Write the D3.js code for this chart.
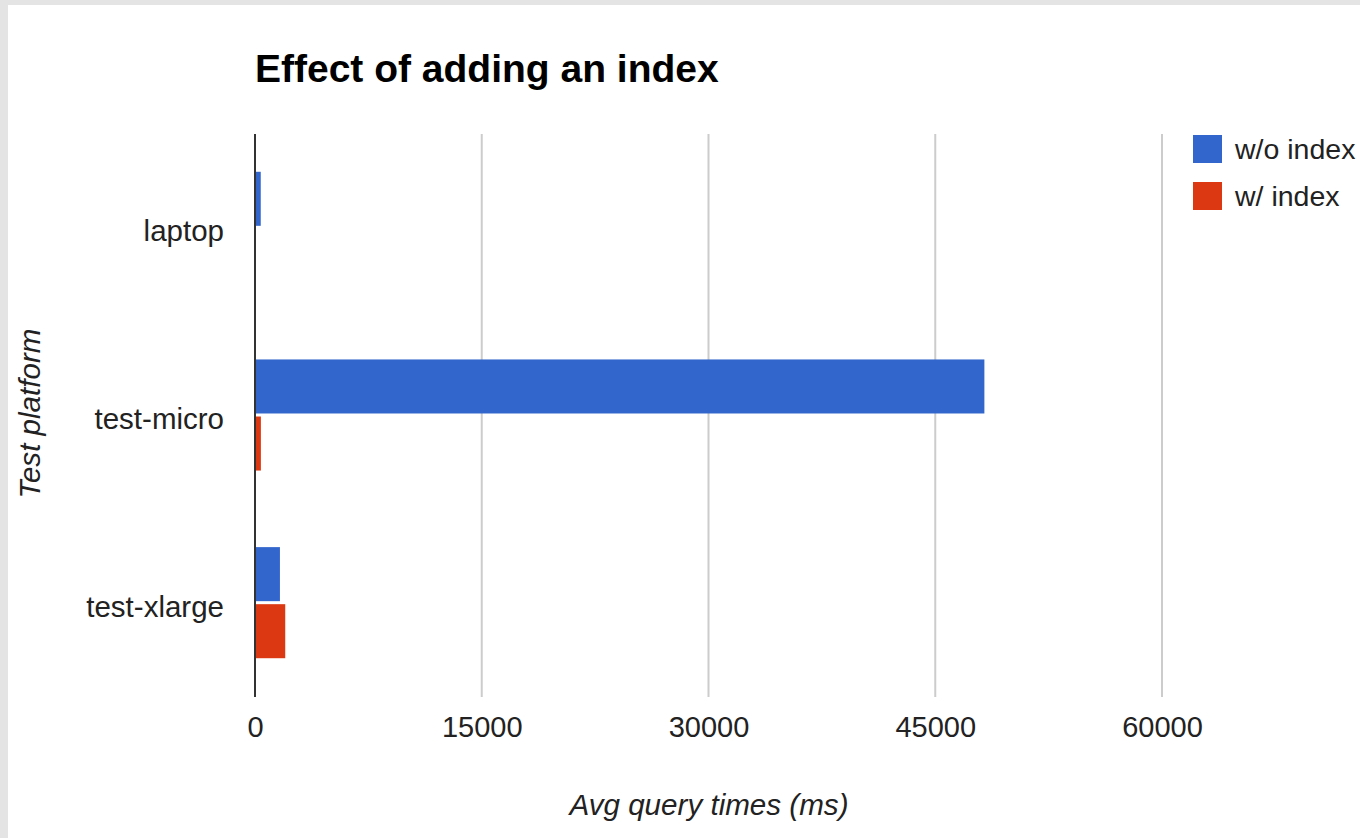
<!DOCTYPE html>
<html>
<head>
<meta charset="utf-8">
<script src="https://cdn.jsdelivr.net/npm/d3@7"></script>
<style>
  html, body { margin: 0; padding: 0; background: #e6e6e6; }
  svg { display: block; }
  text { font-family: "Liberation Sans", Arial, sans-serif; }
</style>
</head>
<body>
<svg id="chart" width="1360" height="838"></svg>
<script>
// Average query times per test platform, with and without an index
const platforms = ["laptop", "test-micro", "test-xlarge"];
const seriesNames = ["w/o index", "w/ index"];
const withoutIndex = [380, 48250, 1650];
const withIndex = [40, 390, 2000];
const xTicks = [0, 15000, 30000, 45000, 60000];
const seriesColors = ["#3366cc", "#dc3912"];

const svg = d3.select("#chart");

// white page area with a light grey frame at top and left
svg.append("rect").attr("x", 0).attr("y", 0).attr("width", 1360).attr("height", 838).attr("fill", "#e4e4e4");
svg.append("rect").attr("x", 8).attr("y", 5).attr("width", 1352).attr("height", 833).attr("fill", "#ffffff");

const plot = { left: 255, right: 1162, top: 134, bottom: 697 };

const x = d3.scaleLinear().domain([0, 60000]).range([plot.left, plot.right]);
const y = d3.scaleBand().domain(platforms).range([plot.top, plot.bottom]).paddingInner(0).paddingOuter(0);

const groupFrac = 0.592;
const inner = d3.scaleBand()
  .domain(seriesNames)
  .range([-y.bandwidth() * groupFrac / 2 - 0.5, y.bandwidth() * groupFrac / 2 - 0.5])
  .paddingInner(0.053);

// vertical gridlines
svg.append("g")
  .selectAll("line")
  .data(xTicks.filter(t => t > 0))
  .join("line")
  .attr("x1", d => x(d)).attr("x2", d => x(d))
  .attr("y1", plot.top).attr("y2", plot.bottom)
  .attr("stroke", "#cccccc").attr("stroke-width", 2);

// bars
const rows = platforms.map((p, i) => ({ platform: p, values: [withoutIndex[i], withIndex[i]] }));
const groups = svg.append("g").selectAll("g")
  .data(rows)
  .join("g")
  .attr("transform", d => `translate(0,${y(d.platform) + y.bandwidth() / 2})`);

groups.selectAll("rect")
  .data(d => d.values.map((v, j) => ({ series: seriesNames[j], value: v, color: seriesColors[j] })))
  .join("rect")
  .attr("x", x(0))
  .attr("y", d => inner(d.series))
  .attr("width", d => x(d.value) - x(0))
  .attr("height", inner.bandwidth())
  .attr("fill", d => d.color);

// baseline axis line
svg.append("line")
  .attr("x1", x(0)).attr("x2", x(0))
  .attr("y1", plot.top).attr("y2", plot.bottom)
  .attr("stroke", "#333333").attr("stroke-width", 2);

// x tick labels
const xAxis = d3.axisBottom(x).tickValues(xTicks).tickSize(0).tickPadding(0).tickFormat(d3.format("d"));
const gx = svg.append("g").attr("transform", `translate(0,${plot.bottom + 19})`).call(xAxis);
gx.select(".domain").remove();
gx.selectAll("text")
  .attr("font-size", 29).attr("fill", "#222222")
  .attr("font-family", "Liberation Sans, Arial, sans-serif");

// y tick labels
const yAxis = d3.axisLeft(y).tickSize(0).tickPadding(0);
const gy = svg.append("g").attr("transform", `translate(${plot.left - 31},0)`).call(yAxis);
gy.select(".domain").remove();
gy.selectAll("text")
  .attr("font-size", 29.5).attr("fill", "#222222")
  .attr("dy", "0.46em")
  .attr("font-family", "Liberation Sans, Arial, sans-serif");

// title
svg.append("text")
  .attr("x", 255).attr("y", 82)
  .attr("font-size", 39).attr("font-weight", "bold").attr("fill", "#000000")
  .text("Effect of adding an index");

// axis titles
svg.append("text")
  .attr("x", 709).attr("y", 815)
  .attr("text-anchor", "middle")
  .attr("font-size", 29.6).attr("font-style", "italic").attr("fill", "#222222")
  .text("Avg query times (ms)");

svg.append("text")
  .attr("transform", `translate(40,${(plot.top + plot.bottom) / 2 - 2}) rotate(-90)`)
  .attr("text-anchor", "middle")
  .attr("font-size", 29.6).attr("font-style", "italic").attr("fill", "#222222")
  .text("Test platform");

// legend
const legend = svg.append("g").attr("transform", "translate(1193,135)");
const items = legend.selectAll("g")
  .data(seriesNames)
  .join("g")
  .attr("transform", (d, i) => `translate(0,${i * 47})`);
items.append("rect")
  .attr("width", 29).attr("height", 28)
  .attr("fill", (d, i) => seriesColors[i]);
items.append("text")
  .attr("x", 42).attr("y", 14).attr("dy", "0.36em")
  .attr("font-size", 28.5).attr("fill", "#222222")
  .text(d => d);
</script>
</body>
</html>
